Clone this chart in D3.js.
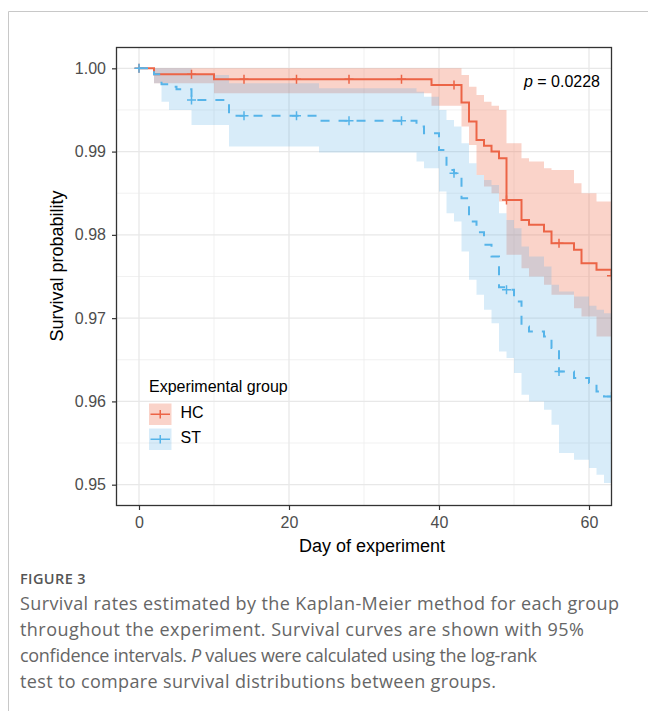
<!DOCTYPE html>
<html>
<head>
<meta charset="utf-8">
<script src="https://cdn.jsdelivr.net/npm/d3@7"></script>
<style>
  body { margin: 0; background: #fff; }
  svg { display: block; font-family: "Liberation Sans", Arial, sans-serif; }
</style>
</head>
<body>
<svg id="chart" width="648" height="711"></svg>
<script>
// Kaplan-Meier steps (day, survival, 95% CI)
const hcTime = [0, 2, 10, 39, 43, 44, 45, 46, 47, 48, 49, 51, 52, 54, 55, 58, 59, 61, 63];
const hcSurv = [1, 0.9993, 0.9987, 0.998, 0.9959, 0.9936, 0.9914, 0.9907, 0.99, 0.9892, 0.9842, 0.9818, 0.9812, 0.9804, 0.979, 0.9782, 0.9766, 0.9758, 0.9751];
const hcLower = [1, 0.9982, 0.997, 0.9955, 0.993, 0.9908, 0.9872, 0.9858, 0.985, 0.984, 0.9776, 0.976, 0.975, 0.974, 0.9728, 0.9712, 0.9702, 0.9678, 0.9676];
const hcUpper = [1, 1, 1, 1, 0.9992, 0.9978, 0.9968, 0.996, 0.9955, 0.995, 0.991, 0.9892, 0.9888, 0.988, 0.9878, 0.9862, 0.985, 0.984, 0.984];

const stTime = [0, 2, 3, 4, 5, 7, 12, 24, 37, 38, 40, 41, 42, 43, 44, 45, 46, 47, 48, 49, 50, 51, 52, 54, 55, 56, 58, 60, 61, 62];
const stSurv = [1, 0.9993, 0.9981, 0.9978, 0.9975, 0.9962, 0.9943, 0.9937, 0.993, 0.9922, 0.9902, 0.9878, 0.9874, 0.9844, 0.9816, 0.9803, 0.9788, 0.9774, 0.9737, 0.9734, 0.972, 0.969, 0.9684, 0.9678, 0.9664, 0.9636, 0.9628, 0.9622, 0.9612, 0.9606];
const stLower = [1, 0.9982, 0.996, 0.995, 0.995, 0.9932, 0.9906, 0.9899, 0.9888, 0.988, 0.9852, 0.9826, 0.9816, 0.978, 0.9746, 0.9728, 0.971, 0.9694, 0.966, 0.9652, 0.9634, 0.9608, 0.96, 0.959, 0.9572, 0.9538, 0.953, 0.952, 0.9512, 0.9502];
const stUpper = [1, 1, 1, 1, 1, 0.9992, 0.9982, 0.9976, 0.9972, 0.9966, 0.995, 0.9938, 0.993, 0.991, 0.9886, 0.9872, 0.9866, 0.986, 0.9826, 0.9818, 0.9808, 0.9786, 0.9774, 0.9762, 0.974, 0.9732, 0.9726, 0.9715, 0.971, 0.9706];

// weekly censoring marks
const censorDays = [0, 7, 14, 21, 28, 35, 42, 49, 56, 63];

const groups = ["HC", "ST"];
const xTicks = [0, 20, 40, 60];
const yTicks = [0.95, 0.96, 0.97, 0.98, 0.99, 1.0];
const pText = "0.0228";

const lineColor = { HC: "#ec6446", ST: "#56b4e9" };
const fillColor = { HC: "rgba(240,110,75,0.3)", ST: "rgba(90,175,230,0.24)" };

const svg = d3.select("#chart");

const x = d3.scaleLinear().domain([-3, 63]).range([116.5, 611.5]);
const y = d3.scaleLinear().domain([0.9475, 1.0025]).range([505.5, 47.5]);
const [pLeft, pRight] = x.range();
const [pBottom, pTop] = y.range();

// page frame
svg.append("line").attr("x1", 8.5).attr("x2", 648).attr("y1", 11.5).attr("y2", 11.5)
  .attr("stroke", "#c8c8c8");
svg.append("line").attr("x1", 8.5).attr("x2", 8.5).attr("y1", 11.5).attr("y2", 711)
  .attr("stroke", "#c8c8c8");

svg.append("clipPath").attr("id", "panel")
  .append("rect").attr("x", pLeft).attr("y", pTop).attr("width", pRight - pLeft).attr("height", pBottom - pTop);

// grid
const grid = svg.append("g");
const xMinor = xTicks.map(d => d + 10).filter(d => d < 63);
const yMinor = yTicks.map(d => d + 0.005).filter(d => d < 1.0025);
grid.selectAll(".ym").data(yMinor).enter().append("line")
  .attr("x1", pLeft).attr("x2", pRight).attr("y1", d => y(d)).attr("y2", d => y(d))
  .attr("stroke", "#ededed").attr("stroke-width", 0.8);
grid.selectAll(".xm").data(xMinor).enter().append("line")
  .attr("y1", pTop).attr("y2", pBottom).attr("x1", d => x(d)).attr("x2", d => x(d))
  .attr("stroke", "#ededed").attr("stroke-width", 0.8);
grid.selectAll(".yM").data(yTicks).enter().append("line")
  .attr("x1", pLeft).attr("x2", pRight).attr("y1", d => y(d)).attr("y2", d => y(d))
  .attr("stroke", "#e8e8e8").attr("stroke-width", 1.3);
grid.selectAll(".xM").data(xTicks).enter().append("line")
  .attr("y1", pTop).attr("y2", pBottom).attr("x1", d => x(d)).attr("x2", d => x(d))
  .attr("stroke", "#e8e8e8").attr("stroke-width", 1.3);

function build(time, surv, lo, hi) {
  const rows = time.map((t, i) => ({ t: t, s: surv[i], lo: lo[i], hi: hi[i] }));
  const last = rows[rows.length - 1];
  if (last.t < 63) rows.push({ t: 63, s: last.s, lo: last.lo, hi: last.hi });
  return rows;
}
const series = {
  HC: build(hcTime, hcSurv, hcLower, hcUpper),
  ST: build(stTime, stSurv, stLower, stUpper)
};

function survAt(rows, day) {
  let v = rows[0].s;
  rows.forEach(r => { if (r.t <= day) v = r.s; });
  return v;
}

const plot = svg.append("g").attr("clip-path", "url(#panel)");

const band = d3.area().curve(d3.curveStepAfter)
  .x(d => x(d.t)).y0(d => y(d.lo)).y1(d => y(d.hi));
const step = d3.line().curve(d3.curveStepAfter)
  .x(d => x(d.t)).y(d => y(d.s));

groups.forEach(g => {
  plot.append("path").attr("d", band(series[g])).attr("fill", fillColor[g]);
});

groups.forEach(g => {
  plot.append("path").attr("d", step(series[g]))
    .attr("fill", "none")
    .attr("stroke", lineColor[g])
    .attr("stroke-width", 2)
    .attr("stroke-dasharray", g === "ST" ? "9,9" : null);
  plot.selectAll(".c" + g).data(censorDays).enter().append("path")
    .attr("d", d => {
      const cx = x(d), cy = y(survAt(series[g], d));
      return `M${cx - 4.5},${cy}H${cx + 4.5}M${cx},${cy - 4.5}V${cy + 4.5}`;
    })
    .attr("stroke", lineColor[g]).attr("stroke-width", 1.5);
});

// panel border
svg.append("rect").attr("x", pLeft).attr("y", pTop)
  .attr("width", pRight - pLeft).attr("height", pBottom - pTop)
  .attr("fill", "none").attr("stroke", "#333").attr("stroke-width", 1.3);

// axes
const yAxis = svg.append("g").attr("transform", `translate(${pLeft},0)`)
  .call(d3.axisLeft(y).tickValues(yTicks).tickFormat(d3.format(".2f")).tickSize(4.5).tickPadding(6));
const xAxis = svg.append("g").attr("transform", `translate(0,${pBottom})`)
  .call(d3.axisBottom(x).tickValues(xTicks).tickSize(4.5).tickPadding(7));
[yAxis, xAxis].forEach(a => {
  a.select(".domain").remove();
  a.selectAll(".tick line").attr("stroke", "#333").attr("stroke-width", 1.2);
  a.selectAll("text").attr("fill", "#4d4d4d").style("font-size", "16px")
    .style("font-family", '"Liberation Sans", Arial, sans-serif');
});

svg.append("text").attr("transform", "translate(63,266) rotate(-90)")
  .attr("text-anchor", "middle").style("font-size", "18px").attr("fill", "#000")
  .text("Survival probability");
svg.append("text").attr("x", 372).attr("y", 552)
  .attr("text-anchor", "middle").style("font-size", "18px").attr("fill", "#000")
  .text("Day of experiment");

// p value
const pt = svg.append("text").attr("x", 600).attr("y", 86.5).attr("text-anchor", "end")
  .style("font-size", "16px").attr("fill", "#000");
pt.append("tspan").attr("font-style", "italic").text("p");
pt.append("tspan").text(" = " + pText);

// legend
const legend = svg.append("g").attr("transform", "translate(149,0)");
legend.append("text").attr("x", 0).attr("y", 391.5).style("font-size", "16px")
  .attr("fill", "#000").text("Experimental group");
groups.forEach((g, i) => {
  const ky = 403.5 + i * 25;
  legend.append("rect").attr("x", 0).attr("y", ky).attr("width", 22.5).attr("height", 21.5)
    .attr("fill", fillColor[g]);
  legend.append("path")
    .attr("d", `M1.5,${ky + 10.75}H21M11.25,${ky + 6.5}V${ky + 15}`)
    .attr("stroke", lineColor[g]).attr("stroke-width", 1.5);
  legend.append("text").attr("x", 31.5).attr("y", ky + 14).style("font-size", "16px")
    .attr("fill", "#000").text(g);
});

// caption
const cap = svg.append("g").style("font-family", '"Open Sans", "Noto Sans", sans-serif');
cap.append("text").attr("x", 20).attr("y", 584).style("font-size", "14.5px")
  .style("font-weight", 600).attr("fill", "#555").attr("letter-spacing", 0.4).text("FIGURE 3");
const capLines = [
  [["Survival rates estimated by the Kaplan-Meier method for each group", false]],
  [["throughout the experiment. Survival curves are shown with 95%", false]],
  [["confidence intervals. ", false], ["P", true], [" values were calculated using the log-rank", false]],
  [["test to compare survival distributions between groups.", false]]
];
const capWidths = [599, 564, 517, 476];
capLines.forEach((parts, i) => {
  const t = cap.append("text").attr("x", 20).attr("y", 610 + i * 26)
    .style("font-size", "18px").attr("fill", "#666")
    .attr("textLength", capWidths[i]).attr("lengthAdjust", "spacing");
  parts.forEach(p => t.append("tspan").attr("font-style", p[1] ? "italic" : null).text(p[0]));
});
</script>
</body>
</html>
